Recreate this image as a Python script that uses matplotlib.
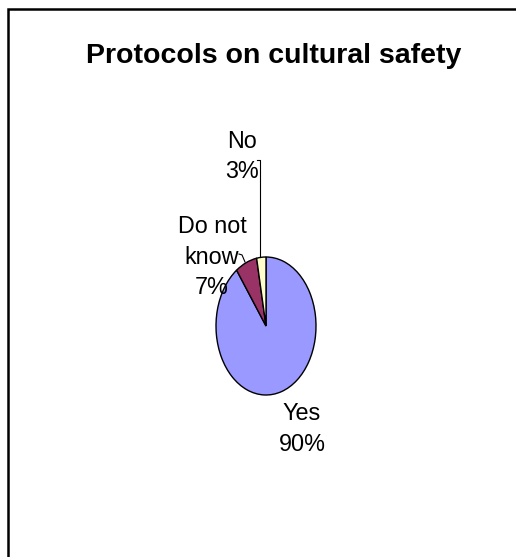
# Pie chart: protocols on cultural safety

import matplotlib
matplotlib.use('Agg')
import matplotlib.pyplot as plt
from matplotlib.patches import Rectangle

labels = ['Yes', 'Do not know', 'No']
values = [90, 7, 3]
colors = ['#9999FF', '#993366', '#FFFFCC']

font = ['Liberation Sans', 'DejaVu Sans']

W, H = 516, 557
fig = plt.figure(figsize=(W / 100, H / 100), dpi=100)

# outer border (only the left and top edges are visible in the reference)
fig.patches.append(Rectangle((7.5 / W, -0.1), 1.2, 1 - 8.5 / H + 0.1,
                             transform=fig.transFigure, fill=False,
                             edgecolor='black', linewidth=1.8))

fig.text(274 / W, 1 - 56 / H, 'Protocols on cultural safety',
         ha='center', va='center', fontsize=20.5, fontweight='bold',
         family=font)

# pie axes: the pie is drawn as an ellipse (stretched vertically)
cx, cy, rx, ry = 266, 326, 50, 69
ax = fig.add_axes([(cx - rx) / W, 1 - (cy + ry) / H, 2 * rx / W, 2 * ry / H])
ax.pie(values, colors=colors, startangle=90, counterclock=False,
       wedgeprops=dict(edgecolor='black', linewidth=1.0))
ax.set_aspect('auto')
ax.set_xlim(-1, 1)
ax.set_ylim(-1, 1)
ax.axis('off')

label_pos = [(0.72, -1.493), (-1.08, 1.0), (-0.48, 2.457)]
for lab, val, (x, y) in zip(labels, values, label_pos):
    txt = lab.replace('Do not ', 'Do not\n') + '\n' + f'{val}%'
    ax.text(x, y, txt, ha='center', va='center', fontsize=16.8,
            family=font, linespacing=1.42, clip_on=False)

# leader lines
ax.plot([-0.18, -0.12, -0.12], [2.406, 2.406, 1.0], color='black',
        linewidth=0.8, clip_on=False)
ax.plot([-0.54, -0.48, -0.42], [1.043, 1.03, 0.928], color='black',
        linewidth=0.8, clip_on=False)

fig.savefig('out.png', dpi=100)
